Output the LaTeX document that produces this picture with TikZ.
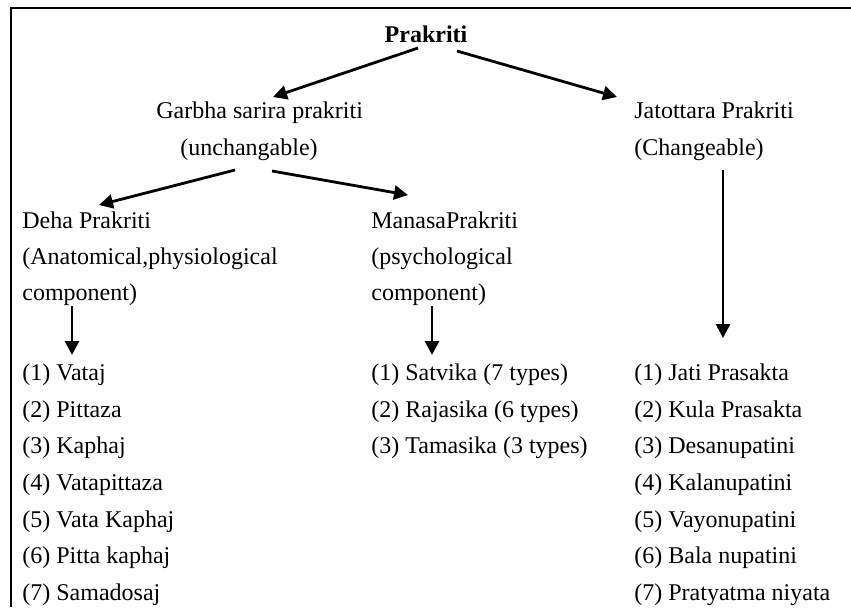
\documentclass[tikz,border=0pt]{standalone}
\usepackage{fontspec}
\setmainfont{Liberation Serif}
\usetikzlibrary{arrows.meta}

\tikzset{
  txt/.style={anchor=base west,inner sep=0pt,font=\fontsize{12}{14}\selectfont},
  arr/.style={line width=1.4pt,-{Triangle[length=7pt,width=7pt]}}
}

\begin{document}
\begin{tikzpicture}[x=0.5pt,y=0.5pt,yscale=-1,xscale=1]
      \useasboundingbox (0,0) rectangle (851,607);
      % frame
      \draw [line width=1.3pt] (11,607) -- (11,8) -- (851,8) ;
      % top
      \node (prakriti) at (426,42) [txt,anchor=base] {\textbf{Prakriti}};
      \node (garbha)   at (156,118) [txt] {Garbha sarira prakriti};
      \node (garbhaB)  at (180,155) [txt] {(unchangable)};
      \node (jatottara)  at (634,118) [txt] {Jatottara Prakriti};
      \node (jatottaraB) at (634,155) [txt] {(Changeable)};
      % second level
      \node (deha)   at (22,228) [txt] {Deha Prakriti};
      \node (dehaB)  at (22,264) [txt] {(Anatomical,physiological};
      \node (dehaC)  at (22,300) [txt] {component)};
      \node (manasa)  at (371,228) [txt] {ManasaPrakriti};
      \node (manasaB) at (371,264) [txt] {(psychological};
      \node (manasaC) at (371,300) [txt] {component)};
      % lists
      \node (vataj)   at (22,380) [txt] {(1) Vataj};
      \node (pittaza) at (22,417) [txt] {(2) Pittaza};
      \node (kaphaj)  at (22,453) [txt] {(3) Kaphaj};
      \node (vatapit) at (22,490) [txt] {(4) Vatapittaza};
      \node (vatakap) at (22,527) [txt] {(5) Vata Kaphaj};
      \node (pitkap)  at (22,563) [txt] {(6) Pitta kaphaj};
      \node (samadosaj) at (22,600) [txt] {(7) Samadosaj};
      \node (satvika)  at (371,380) [txt] {(1) Satvika (7 types)};
      \node (rajasika) at (371,417) [txt] {(2) Rajasika (6 types)};
      \node (tamasika) at (371,453) [txt] {(3) Tamasika (3 types)};
      \node (jati)   at (634,380) [txt] {(1) Jati Prasakta};
      \node (kula)   at (634,417) [txt] {(2) Kula Prasakta};
      \node (desa)   at (634,453) [txt] {(3) Desanupatini};
      \node (kala)   at (634,490) [txt] {(4) Kalanupatini};
      \node (vayo)   at (634,527) [txt] {(5) Vayonupatini};
      \node (bala)   at (634,563) [txt] {(6) Bala nupatini};
      \node (pratyatma) at (634,600) [txt] {(7) Pratyatma niyata};
      % arrows
      \draw [arr] ([shift={(-8,6)}]prakriti.base) -- ([shift={(117,-21)}]garbha.base west) ;
      \draw [arr] ([shift={(31,9)}]prakriti.base) -- ([shift={(-17,-21)}]jatottara.base west) ;
      \draw [arr] ([shift={(55,15)}]garbhaB.base west) -- ([shift={(77,-23)}]deha.base west) ;
      \draw [arr] ([shift={(92,16)}]garbhaB.base west) -- ([shift={(37,-33)}]manasa.base west) ;
      \draw [arr] ([shift={(50,6)}]dehaC.base west) -- ([shift={(50,-25)}]vataj.base west) ;
      \draw [arr] ([shift={(61,6)}]manasaC.base west) -- ([shift={(61,-25)}]satvika.base west) ;
      \draw [arr] ([shift={(89,15)}]jatottaraB.base west) -- ([shift={(89,-42)}]jati.base west) ;
    \end{tikzpicture}
\end{document}
